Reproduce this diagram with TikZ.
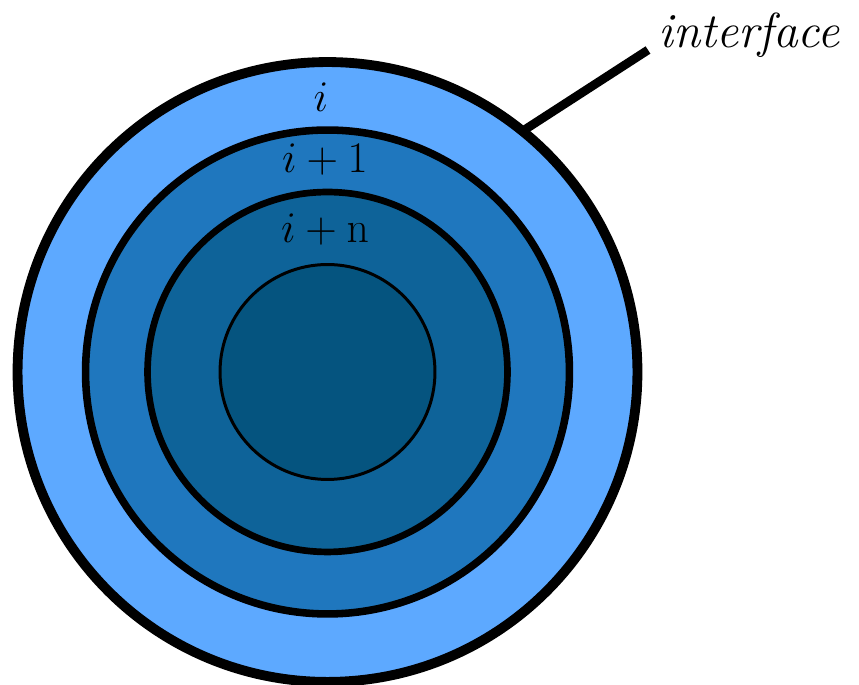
\documentclass[tikz,border=0pt]{standalone}
\usepackage{amsmath}
\usepackage{tikz}
\usetikzlibrary{
  positioning,
  calc
}
\definecolor{RingLight}{HTML}{5DA9FF}
\definecolor{RingMid}{HTML}{1F77BE}
\definecolor{RingDeep}{HTML}{0E6399}
\definecolor{RingCore}{HTML}{05547F}
\tikzset{
  % Concentric layer: filled circle, size and border passed in
  layer/.style={
    circle, draw=black, fill=#1,
    inner sep=0pt, outer sep=0pt
  },
  % Layer index label
  idx/.style={font=\fontsize{28}{32}\selectfont, inner sep=0pt},
  % Leader line
  lead/.style={line width=5pt, color=black}
}
\begin{document}
\begin{tikzpicture}[x=0.02cm, y=0.02cm]
  \useasboundingbox (0,0) rectangle (859,685);

  \node[layer=RingLight, minimum size=12.4cm, line width=5.6pt] (outer) at (327.5,313) {};
  \node[layer=RingMid,   minimum size=9.68cm, line width=4.3pt] (second) at (327.5,313) {};
  \node[layer=RingDeep,  minimum size=7.2cm,  line width=3.8pt] (third) at (327.5,313) {};
  \node[layer=RingCore,  minimum size=4.3cm,  line width=1.7pt] (core) at (327.5,313) {};

  \node[idx] (li)  at (321,588) {$i$};
  \node[idx] (li1) at (325,525) {$i+1$};
  \node[idx] (lin) at (325,455) {$i+\mathrm{n}$};

  \node[idx, font=\fontsize{28}{32}\selectfont\itshape, anchor=base west] (iface) at (658,637) {interface};
  \coordinate (tip) at (648,635);

  \draw[lead] (outer.51) -- (tip);
\end{tikzpicture}
\end{document}
